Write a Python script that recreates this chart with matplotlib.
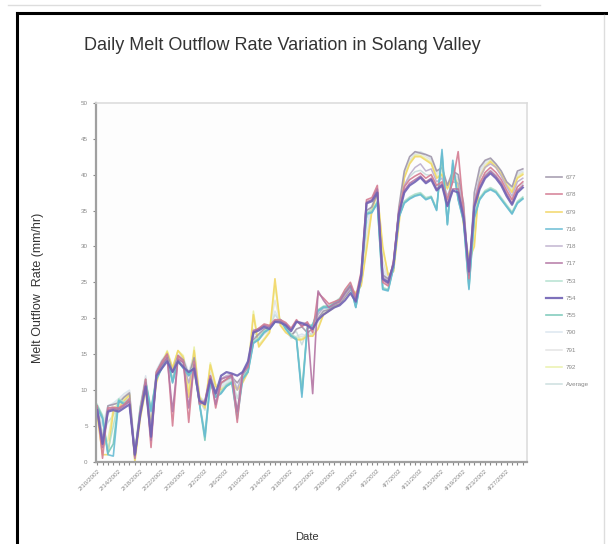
import numpy as np
import pandas as pd
import matplotlib
matplotlib.use("Agg")
import matplotlib.pyplot as plt
from matplotlib.lines import Line2D

plt.rcParams['font.family'] = ['Liberation Sans', 'DejaVu Sans']

# 80 daily values, 10/02/2002 .. 30/04/2002
dates = pd.date_range("2002-02-10", periods=80)

s677 = [7.8, 3.0, 7.8, 8.0, 8.2, 9.0, 9.6, 1.0, 7.5, 11.5,
        4.5, 12.5, 14.0, 15.0, 12.5, 14.8, 14.2, 12.0, 14.5, 8.5,
        8.0, 12.0, 9.5, 11.0, 11.5, 11.8, 11.0, 12.0, 13.0, 17.0,
        17.8, 18.5, 18.8, 19.5, 19.8, 19.0, 17.5, 18.5, 18.8, 18.0,
        18.5, 20.0, 21.0, 21.2, 21.8, 22.0, 23.0, 24.0, 22.5, 25.5,
        35.0, 35.5, 37.5, 26.0, 25.5, 27.0, 35.5, 40.5, 42.5, 43.2,
        43.0, 42.8, 42.5, 40.5, 41.0, 38.5, 40.5, 40.0, 36.0, 25.5,
        37.5, 41.0, 42.0, 42.3, 41.5, 40.5, 39.0, 38.3, 40.5, 40.8]
s678 = [7.8, 0.5, 7.5, 7.6, 7.5, 8.0, 8.8, 0.5, 7.0, 11.5,
        2.0, 12.5, 13.8, 15.0, 5.0, 14.8, 14.0, 5.5, 14.0, 8.0,
        8.5, 12.0, 7.5, 11.0, 11.5, 12.2, 5.5, 12.5, 13.2, 18.0,
        18.6, 19.2, 19.0, 19.8, 19.8, 19.4, 18.6, 19.8, 18.8, 19.5,
        18.0, 23.5, 22.8, 22.0, 22.3, 22.6, 24.0, 25.0, 23.0, 26.5,
        36.5, 36.8, 38.5, 25.0, 24.5, 28.0, 35.0, 38.3, 39.3, 39.8,
        40.2, 39.5, 40.0, 38.5, 39.0, 36.5, 39.0, 43.2, 35.0, 25.5,
        36.0, 38.8, 40.3, 41.0, 40.3, 39.3, 37.8, 36.5, 38.3, 39.0]
s679 = [6.5, 1.0, 1.0, 7.0, 7.5, 8.5, 9.3, 0.0, 6.0, 10.0,
        5.0, 11.0, 13.5, 15.3, 13.0, 15.5, 14.5, 9.0, 15.5, 9.0,
        7.5, 13.5, 10.5, 10.0, 10.5, 11.0, 10.0, 11.0, 12.5, 20.5,
        16.0, 17.0, 18.0, 25.5, 19.0, 18.0, 17.5, 17.0, 17.0, 17.5,
        17.5, 18.5, 20.5, 21.0, 21.5, 22.0, 23.0, 24.0, 23.5, 24.5,
        29.5, 35.0, 37.5, 30.0, 26.0, 26.5, 33.0, 39.5, 41.5, 42.5,
        42.5, 42.0, 41.5, 39.5, 40.0, 38.0, 40.0, 38.5, 33.0, 28.0,
        30.0, 39.5, 41.0, 41.8, 41.0, 40.0, 38.5, 37.5, 39.5, 40.0]
s716 = [7.5, 6.0, 1.0, 0.8, 8.5, 8.0, 8.5, 0.5, 7.0, 11.0,
        7.0, 11.5, 13.0, 14.5, 11.0, 14.0, 13.0, 12.0, 13.0, 8.0,
        3.5, 11.0, 9.0, 9.5, 10.5, 11.0, 6.0, 11.5, 12.5, 16.5,
        17.0, 18.0, 18.5, 19.5, 19.8, 18.5, 17.5, 17.0, 9.0, 18.5,
        19.0, 21.0, 21.5, 21.5, 22.0, 22.5, 23.5, 24.5, 21.5, 25.5,
        34.5, 34.7, 36.0, 24.0, 23.8, 27.0, 34.0, 36.0, 36.6, 37.0,
        37.2, 36.5, 36.8, 35.0, 43.5, 33.0, 42.0, 36.5, 33.5, 24.0,
        34.0, 36.5, 37.5, 37.9, 37.5, 36.5, 35.5, 34.5, 36.0, 36.6]
s718 = [7.6, 2.8, 7.3, 7.5, 7.4, 8.0, 8.6, 1.2, 7.0, 11.2,
        4.0, 12.3, 13.6, 14.6, 11.5, 14.5, 13.9, 11.0, 13.8, 8.6,
        8.4, 11.9, 9.0, 11.6, 12.0, 12.2, 10.0, 12.4, 13.8, 18.2,
        18.6, 19.0, 18.8, 19.7, 19.7, 19.2, 18.5, 19.6, 19.4, 19.3,
        18.8, 20.5, 21.5, 21.5, 22.0, 22.2, 23.2, 24.2, 22.6, 26.0,
        36.0, 36.5, 38.0, 25.8, 25.2, 27.6, 35.0, 38.5, 40.0, 41.0,
        41.5, 40.5, 40.8, 39.0, 39.5, 37.0, 39.0, 38.8, 35.5, 26.0,
        36.5, 39.5, 41.0, 41.5, 41.0, 39.8, 38.3, 37.0, 39.0, 39.5]
s717 = [7.5, 2.0, 7.2, 7.4, 7.3, 7.8, 8.4, 0.8, 6.8, 11.0,
        3.0, 12.2, 13.5, 14.5, 7.0, 14.3, 13.8, 7.5, 13.5, 8.2,
        8.3, 11.8, 8.0, 11.5, 11.8, 12.0, 7.0, 12.3, 13.5, 18.3,
        18.5, 19.0, 18.8, 19.6, 19.6, 19.2, 18.4, 19.6, 19.0, 19.2,
        9.5, 23.8, 22.5, 21.5, 22.0, 22.3, 23.5, 24.5, 22.5, 25.5,
        36.2, 36.5, 38.0, 25.3, 24.8, 27.8, 34.8, 37.8, 38.8, 39.3,
        39.8, 39.0, 39.5, 38.0, 38.7, 35.8, 38.0, 38.0, 34.5, 26.0,
        35.8, 38.3, 39.8, 40.5, 39.8, 38.8, 37.3, 36.0, 37.8, 38.5]
s753 = [8.0, 6.5, 1.5, 5.0, 8.8, 8.3, 8.8, 1.0, 7.5, 11.3,
        7.5, 11.8, 13.2, 14.6, 11.5, 14.2, 13.3, 12.5, 13.3, 8.2,
        4.0, 11.3, 9.3, 9.8, 10.8, 11.2, 7.0, 11.8, 12.8, 16.8,
        17.3, 18.2, 18.7, 19.6, 19.8, 18.7, 17.8, 17.3, 10.0, 18.8,
        19.2, 21.2, 21.7, 21.8, 22.2, 22.8, 23.8, 24.8, 21.6, 25.8,
        34.8, 35.0, 36.3, 24.3, 24.0, 27.2, 34.3, 36.3, 36.9, 37.3,
        37.5, 36.8, 37.0, 35.3, 42.5, 33.3, 41.0, 36.8, 33.8, 24.5,
        34.3, 36.8, 37.8, 38.2, 37.8, 36.8, 35.8, 34.8, 36.3, 36.9]
s754 = [7.2, 2.5, 7.0, 7.2, 7.0, 7.5, 8.0, 1.0, 6.5, 10.5,
        3.5, 12.0, 13.0, 14.0, 12.5, 14.0, 13.2, 12.5, 13.0, 8.5,
        8.0, 11.5, 9.5, 12.0, 12.5, 12.3, 12.0, 12.5, 14.0, 18.0,
        18.3, 18.8, 18.5, 19.5, 19.4, 19.0, 18.2, 19.5, 19.3, 19.0,
        18.5, 19.8, 20.5, 21.0, 21.5, 21.8, 22.5, 23.5, 22.3, 26.0,
        36.0, 36.3, 37.5, 25.5, 25.0, 27.5, 34.5, 37.5, 38.5, 39.0,
        39.6, 38.8, 39.3, 37.8, 38.5, 35.6, 37.8, 37.5, 34.0, 26.5,
        35.5, 38.0, 39.5, 40.2, 39.5, 38.5, 37.0, 35.8, 37.5, 38.2]
s755 = [7.8, 6.2, 1.2, 2.5, 8.6, 8.1, 8.6, 0.8, 7.2, 11.2,
        7.2, 11.6, 13.1, 14.5, 11.2, 14.1, 13.1, 12.2, 13.1, 8.1,
        3.0, 11.1, 9.1, 9.6, 10.6, 11.1, 6.5, 11.6, 12.6, 16.6,
        17.1, 18.1, 18.6, 19.5, 19.8, 18.6, 17.6, 17.1, 9.5, 18.6,
        19.1, 21.1, 21.6, 21.6, 22.1, 22.6, 23.6, 24.6, 21.5, 25.6,
        34.6, 34.8, 36.1, 24.1, 23.9, 27.1, 34.1, 36.1, 36.7, 37.1,
        37.3, 36.6, 36.9, 35.1, 43.0, 33.1, 41.5, 36.6, 33.6, 24.2,
        34.1, 36.6, 37.6, 38.0, 37.6, 36.6, 35.6, 34.6, 36.1, 36.7]
s790 = [7.9, 5.0, 7.8, 8.2, 8.8, 9.5, 10.0, 1.5, 7.8, 12.0,
        6.0, 12.8, 14.2, 15.2, 12.8, 15.0, 14.5, 12.5, 15.0, 9.0,
        8.5, 12.5, 10.0, 10.5, 11.0, 11.5, 10.5, 11.5, 12.8, 17.5,
        17.5, 18.0, 18.5, 21.0, 19.5, 18.5, 17.2, 17.5, 17.8, 17.5,
        18.0, 19.8, 20.8, 21.2, 21.8, 22.2, 23.3, 24.3, 23.0, 25.0,
        33.0, 35.5, 37.5, 27.0, 25.0, 26.8, 34.5, 40.0, 42.0, 43.0,
        43.2, 42.8, 42.2, 40.2, 40.8, 38.3, 40.3, 39.5, 35.0, 26.5,
        35.0, 40.5, 41.8, 42.2, 41.3, 40.3, 38.8, 38.0, 40.2, 40.5]
s791 = [8.0, 4.0, 6.5, 8.0, 8.5, 9.2, 9.8, 1.2, 7.6, 11.8,
        5.5, 12.6, 14.0, 15.0, 12.6, 14.8, 14.3, 12.2, 14.8, 8.8,
        8.2, 12.3, 9.8, 10.3, 10.8, 11.3, 10.2, 11.3, 12.6, 18.5,
        17.0, 17.8, 18.3, 22.5, 19.3, 18.3, 17.3, 17.3, 17.5, 17.5,
        17.8, 19.5, 20.6, 21.1, 21.7, 22.1, 23.2, 24.2, 23.2, 24.8,
        31.5, 35.3, 37.5, 28.0, 25.5, 26.6, 34.0, 39.8, 41.8, 42.8,
        43.0, 42.5, 42.0, 40.0, 40.5, 38.2, 40.2, 39.2, 34.5, 27.0,
        33.0, 40.0, 41.5, 42.0, 41.2, 40.2, 38.7, 37.8, 40.0, 40.3]
s792 = [6.8, 2.0, 3.0, 7.5, 8.0, 8.8, 9.5, 0.3, 6.5, 10.5,
        5.2, 11.5, 13.8, 15.5, 13.2, 15.5, 14.8, 10.0, 16.0, 9.2,
        7.8, 13.8, 10.8, 10.2, 10.6, 11.2, 10.2, 11.2, 12.7, 21.0,
        16.3, 17.2, 18.2, 24.5, 19.2, 18.2, 17.6, 17.2, 17.2, 17.6,
        17.6, 18.7, 20.6, 21.1, 21.6, 22.1, 23.1, 24.1, 23.6, 24.6,
        30.0, 35.2, 37.6, 29.5, 26.2, 26.6, 33.3, 39.7, 41.7, 42.7,
        42.7, 42.2, 41.7, 39.7, 40.2, 38.2, 40.2, 38.7, 33.3, 28.3,
        30.5, 39.7, 41.2, 42.0, 41.2, 40.2, 38.7, 37.7, 39.7, 40.2]
average = [7.5, 3.8, 5.5, 6.5, 7.9, 8.4, 9.0, 0.9, 7.1, 11.2,
           5.0, 12.0, 13.5, 14.8, 11.0, 14.6, 13.9, 10.8, 14.2, 8.5,
           7.2, 12.0, 9.4, 10.8, 11.3, 11.7, 8.8, 11.8, 13.0, 17.9,
           17.6, 18.3, 18.6, 20.5, 19.5, 18.8, 17.8, 18.1, 16.3, 18.3,
           17.5, 20.7, 21.3, 21.4, 21.9, 22.3, 23.4, 24.4, 22.6, 25.5,
           33.9, 35.7, 37.3, 26.3, 24.9, 27.0, 34.4, 38.3, 39.7, 40.4,
           40.6, 40.0, 39.9, 38.3, 40.0, 36.4, 39.9, 38.3, 34.4, 25.8,
           34.3, 38.7, 40.0, 40.6, 39.9, 38.9, 37.4, 36.5, 38.3, 38.8]

labels = ["677", "678", "679", "716", "718", "717", "753", "754", "755",
          "790", "791", "792", "Average"]
series = [s677, s678, s679, s716, s718, s717, s753, s754, s755,
          s790, s791, s792, average]
colors = ["#a096aa", "#d47c92", "#f2d766", "#68bcd4", "#bcaecc", "#b476a4",
          "#addfcc", "#7062b4", "#78c8b8", "#d8e4ee", "#e2e2e2", "#e8f0a4",
          "#c8dcdc"]
widths = [1.2, 1.2, 1.2, 1.2, 1.1, 1.2, 1.1, 1.6, 1.2, 1.1, 1.1, 1.1, 1.1]

fig = plt.figure(figsize=(6.08, 5.44), dpi=100)
fig.patch.set_facecolor("white")
ax = fig.add_axes([0.158, 0.151, 0.709, 0.660])
ax.set_facecolor("#fdfdfd")

x = np.arange(len(dates))
# light series first so the darker ones stay visible on top
order = [9, 10, 12, 11, 2, 0, 4, 6, 8, 3, 1, 5, 7]
for rank, i in enumerate(order):
    ax.plot(x, series[i], color=colors[i], lw=widths[i], label=labels[i],
            alpha=0.9, zorder=2 + rank * 0.01)

ax.set_xlim(-0.2, 79.8)
ax.set_ylim(0, 50)
ax.set_yticks(np.arange(0, 51, 5))
ax.set_xticks(x, minor=True)
major = x[::4][:20]
ax.set_xticks(major)
ax.set_xticklabels([f"{d.month}/{d.day}/{d.year}" for d in dates[major]],
                   rotation=45, ha="right", rotation_mode="anchor")
ax.tick_params(axis="both", labelsize=4.5, colors="#888888", length=2.5, width=0.8)
ax.tick_params(axis="x", which="minor", length=2.5, width=0.8, color="#888888")
ax.tick_params(axis="x", pad=2)
for side in ["left", "bottom"]:
    ax.spines[side].set_color("#a0a0a0")
    ax.spines[side].set_linewidth(1.6)
for side in ["top", "right"]:
    ax.spines[side].set_color("#dddddd")
    ax.spines[side].set_linewidth(1.2)

handles, labs = ax.get_legend_handles_labels()
lookup = dict(zip(labs, handles))
ax.legend([lookup[l] for l in labels], labels, loc="upper left",
          bbox_to_anchor=(1.03, 0.815), frameon=False, fontsize=4.5,
          handlelength=2.6, labelspacing=1.9, handletextpad=0.6,
          labelcolor="#888888")

fig.text(0.464, 0.917, "Daily Melt Outflow Rate Variation in Solang Valley",
         ha="center", va="center", fontsize=13, color="#333333")
fig.text(0.0625, 0.47, "Melt Outflow  Rate (mm/hr)", rotation=90,
         ha="center", va="center", fontsize=9, color="#333333")
fig.text(0.505, 0.013, "Date", ha="center", va="center", fontsize=8,
         color="#333333")

# chart frame
fig.add_artist(Line2D([17 / 608, 17 / 608], [0, 1 - 13 / 544], color="black", lw=2.2))
fig.add_artist(Line2D([17 / 608, 1], [1 - 13 / 544, 1 - 13 / 544], color="black", lw=2.2))
fig.add_artist(Line2D([8 / 608, 540 / 608], [1 - 5 / 544, 1 - 5 / 544], color="#dddddd", lw=1))
fig.add_artist(Line2D([604 / 608, 604 / 608], [0, 1 - 15 / 544], color="#dddddd", lw=1))

fig.savefig("out.png", dpi=100)
